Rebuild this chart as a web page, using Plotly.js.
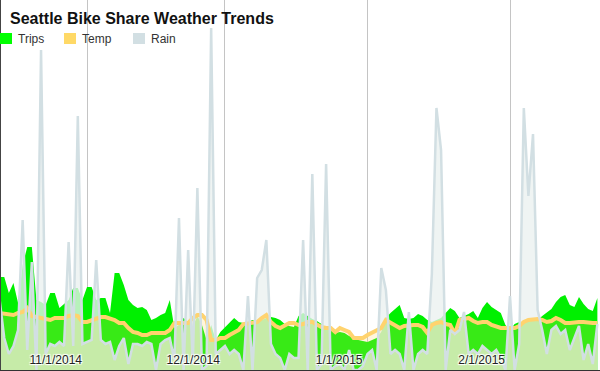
<!DOCTYPE html>
<html>
<head>
<meta charset="utf-8">
<script src="https://cdn.plot.ly/plotly-3.0.1.min.js"></script>
<style>
  html, body { margin: 0; padding: 0; background: #fff; }
  #chart { width: 600px; height: 371px; }
</style>
</head>
<body>
<div id="chart"></div>
<script>
// ---- data (daily, starting 2014-10-13) ----
const startDate = '2014-10-13';

const trips = [
  465,465,385,435,335,525,615,615,350,340,
  325,385,385,310,330,350,410,410,350,415,
  415,350,360,360,285,485,485,425,350,325,
  310,315,300,250,260,275,285,350,210,225,
  260,240,215,270,225,150,225,150,190,215,
  240,260,240,235,240,250,240,250,260,265,
  260,250,230,220,215,270,285,270,255,245,
  230,210,200,185,190,185,170,160,150,145,
  140,150,160,190,260,285,305,325,260,255,
  260,280,270,250,240,250,260,285,310,295,
  260,270,280,295,260,310,340,315,300,285,
  225,200,230,240,230,260,255,250,270,290,
  305,340,365,375,325,315,365,330,305,295,360
];

const temp = [
  57,56,55,55,57,58,62,54,53,52,
  50,50,52,52,52,54,55,54,48,48,
  50,52,53,53,52,50,47,47,42,38,
  37,35,35,37,37,37,37,40,47,47,
  47,47,52,55,55,50,30,30,32,32,
  35,38,40,46,47,48,48,52,55,48,
  44,42,45,47,47,45,46,48,48,45,
  43,42,42,38,42,40,38,32,32,32,
  35,37,40,42,50,47,44,42,44,45,
  45,45,43,37,45,47,48,46,45,36,
  50,51,52,49,47,48,48,45,43,42,
  42,42,42,44,48,50,51,51,50,48,
  49,52,50,47,47,48,48,48,47,47,47
];

const rain = [
  0.35,0.16,0.08,0.12,0.20,0.75,0.10,0.54,0.00,1.60,
  0.08,0.13,0.12,0.14,0.12,0.64,0.12,1.27,0.13,0.14,
  0.15,0.55,0.15,0.13,0.14,0.05,0.12,0.16,0.03,0.13,
  0.13,0.12,0.14,0.13,0.00,0.13,0.15,0.16,0.05,0.76,
  0.00,0.60,0.03,0.91,0.00,0.02,1.71,0.08,0.10,0.12,
  0.08,0.10,0.08,0.00,0.37,0.00,0.46,0.50,0.65,0.13,
  0.08,0.06,0.00,0.08,0.06,0.06,0.65,0.00,0.98,0.00,
  0.03,1.03,0.00,0.02,0.03,0.00,0.10,0.00,0.00,0.02,
  0.08,0.10,0.00,0.51,0.40,0.08,0.10,0.08,0.00,0.29,
  0.00,0.08,0.10,0.08,0.48,1.31,1.10,0.00,0.20,0.18,
  0.20,0.29,0.08,0.10,0.08,0.12,0.10,0.08,0.10,0.06,
  0.00,0.37,0.00,0.13,1.31,0.87,1.18,0.30,0.20,0.08,
  0.20,0.22,0.18,0.20,0.10,0.16,0.22,0.05,0.13,0.03,0.23
];

const tickDates = ['2014-11-01','2014-12-01','2015-01-01','2015-02-01'];
const tickLabels = ['11/1/2014','12/1/2014','1/1/2015','2/1/2015'];
const seriesNames = ['Trips','Temp','Rain'];
const seriesColors = ['#00ff00','#ffd966','#d2dfe3'];

// consecutive calendar days for the x categories
const t0 = Date.parse(startDate + 'T00:00:00Z');
const dates = trips.map((_, i) => new Date(t0 + i * 86400000).toISOString().slice(0, 10));

const traces = [
  { x: dates, y: trips, name: 'Trips', type: 'scatter', mode: 'lines', yaxis: 'y',
    fill: 'tozeroy', fillcolor: '#00f000', line: { width: 0, color: '#00f000' }, hoverinfo: 'skip' },
  { x: dates, y: rain, name: 'Rain', type: 'scatter', mode: 'lines', yaxis: 'y2',
    fill: 'tozeroy', fillcolor: 'rgba(234,241,240,0.78)', line: { width: 0, color: '#d2dfe3' }, hoverinfo: 'skip' },
  { x: dates, y: temp, name: 'Temp', type: 'scatter', mode: 'lines', yaxis: 'y3',
    fill: 'tozeroy', fillcolor: 'rgba(255,215,100,0.22)', line: { width: 4, color: '#ffd36e' }, hoverinfo: 'skip' },
  { x: dates, y: rain, name: 'Rain line', type: 'scatter', mode: 'lines', yaxis: 'y4',
    line: { width: 2.5, color: '#d2dfe3' }, hoverinfo: 'skip', showlegend: false }
];

const font = 'Liberation Sans, Arial, sans-serif';
const pxX = p => (p - 1) / 599;
const pxY = p => (370 - p) / 370;

const shapes = [];
const annotations = [];
const legendX = [0, 64, 133];
seriesNames.forEach((n, i) => {
  shapes.push({ type: 'rect', xref: 'paper', yref: 'paper',
    x0: pxX(legendX[i]), x1: pxX(legendX[i] + 12), y0: pxY(44), y1: pxY(33),
    fillcolor: seriesColors[i], line: { width: 0 }, layer: 'above' });
  annotations.push({ xref: 'paper', yref: 'paper', x: pxX(legendX[i] + 16), y: pxY(39),
    xanchor: 'left', yanchor: 'middle', showarrow: false, text: n,
    font: { family: font, size: 12, color: '#333' } });
});

const hidden = { overlaying: 'y', visible: false, fixedrange: true };
const layout = {
  width: 600, height: 371,
  margin: { l: 1, r: 0, t: 0, b: 1, pad: 0 },
  paper_bgcolor: '#fff', plot_bgcolor: '#fff',
  showlegend: false,
  title: { text: 'Seattle Bike Share Weather Trends', x: 10 / 600, xanchor: 'left',
    xref: 'container', yref: 'container', y: 1 - 18 / 371, yanchor: 'middle',
    font: { family: font, size: 16, weight: 'bold', color: '#111' } },
  xaxis: {
    type: 'date', range: ['2014-10-13 07:00', '2015-02-20 13:40'],
    tickvals: tickDates, ticktext: tickLabels, ticks: '',
    ticklabelposition: 'inside left', ticklabelshift: -4,
    tickfont: { family: font, size: 12, color: '#222',
      shadow: '1px 1px 1px #fff, -1px -1px 1px #fff, 1px -1px 1px #fff, -1px 1px 1px #fff' },
    showgrid: true, gridcolor: '#c4c4c4', gridwidth: 1,
    showline: true, linecolor: '#333', linewidth: 2, zeroline: false, layer: 'above traces'
  },
  yaxis: { range: [0, 1850], showgrid: false, zeroline: false, showticklabels: false, ticks: '',
    showline: true, linecolor: '#444', linewidth: 2 },
  yaxis2: Object.assign({ range: [0, 1.85] }, hidden),
  yaxis3: Object.assign({ range: [0, 370] }, hidden),
  yaxis4: Object.assign({ range: [0, 1.85] }, hidden),
  shapes: shapes,
  annotations: annotations
};

Plotly.newPlot('chart', traces, layout, { displayModeBar: false, staticPlot: true });
</script>
</body>
</html>
